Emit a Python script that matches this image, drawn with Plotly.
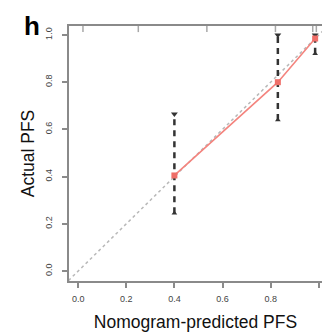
import plotly.graph_objects as go

# Calibration data: nomogram-predicted vs. observed PFS
predicted = [0.40, 0.83, 0.985]
observed = [0.405, 0.80, 0.985]
ci_low = [0.245, 0.64, 0.92]
ci_high = [0.665, 1.00, 1.00]

# Distribution of predictions shown as a rug along the top
rug_x = [0.02, 0.25, 0.535, 0.82, 0.975, 0.99]

ideal = [-0.04, 1.04]
x_ticks = [0.0, 0.2, 0.4, 0.6, 0.8, 1.0]
y_ticks = [0.0, 0.2, 0.4, 0.6, 0.8, 1.0]

fig = go.Figure()

# Ideal reference diagonal
fig.add_trace(go.Scatter(
    x=ideal, y=ideal, mode="lines",
    line=dict(color="#b8b8b8", width=1.5, dash="dot"),
    hoverinfo="skip"))

# Confidence intervals: dashed verticals with caps
for xp, lo, hi in zip(predicted, ci_low, ci_high):
    fig.add_trace(go.Scatter(
        x=[xp, xp], y=[lo, hi], mode="lines",
        line=dict(color="#333333", width=2.5, dash="6px,5px")))
fig.add_trace(go.Scatter(
    x=predicted, y=ci_high, mode="markers",
    marker=dict(symbol="triangle-down", size=6, color="#333333")))
fig.add_trace(go.Scatter(
    x=predicted, y=ci_low, mode="markers",
    marker=dict(symbol="triangle-up", size=5, color="#333333")))

# Calibration curve
fig.add_trace(go.Scatter(
    x=predicted, y=observed, mode="lines+markers",
    line=dict(color="#f4847e", width=1.6),
    marker=dict(symbol="square", size=6, color="#ef6e68")))

# Rug of predictions
fig.add_trace(go.Scatter(
    x=rug_x, y=[1.027] * len(rug_x), mode="markers",
    marker=dict(symbol="line-ns", size=5,
                line=dict(color="#a8a8a8", width=1.5))))

axis_font = dict(family="Liberation Sans, Arial, sans-serif", size=9, color="#444444")
title_font = dict(family="Liberation Sans, Arial, sans-serif", size=17.5, color="#111111")

fig.update_layout(
    width=322, height=336,
    margin=dict(l=69, r=0, t=26, b=55),
    paper_bgcolor="white", plot_bgcolor="white",
    showlegend=False,
    xaxis=dict(
        range=[-0.038, 1.0135], tickvals=x_ticks,
        ticktext=[f"{v:.1f}" for v in x_ticks],
        showgrid=False, zeroline=False,
        showline=True, mirror=True, linecolor="#8a8a8a", linewidth=1.5,
        ticks="outside", ticklen=5, tickcolor="#8a8a8a", tickwidth=1.5,
        tickfont=axis_font, ticklabelstandoff=3,
        title=dict(text="Nomogram-predicted PFS", font=title_font, standoff=13)),
    yaxis=dict(
        range=[-0.042, 1.038], tickvals=y_ticks,
        ticktext=[f"{v:.1f}" for v in y_ticks],
        showgrid=False, zeroline=False,
        showline=True, linecolor="#8a8a8a", linewidth=1.5,
        ticks="outside", ticklen=5, tickcolor="#8a8a8a", tickwidth=1.5,
        tickangle=-90, tickfont=axis_font, ticklabelstandoff=7,
        title=dict(text="Actual PFS", font=title_font, standoff=5)),
    annotations=[dict(
        text="<b>h</b>", xref="paper", yref="paper",
        x=-0.145, y=1.0, xanchor="center", yanchor="middle",
        showarrow=False,
        font=dict(family="Liberation Sans, Arial, sans-serif", size=26, color="#000000"))],
)

fig.write_html("out.html")
